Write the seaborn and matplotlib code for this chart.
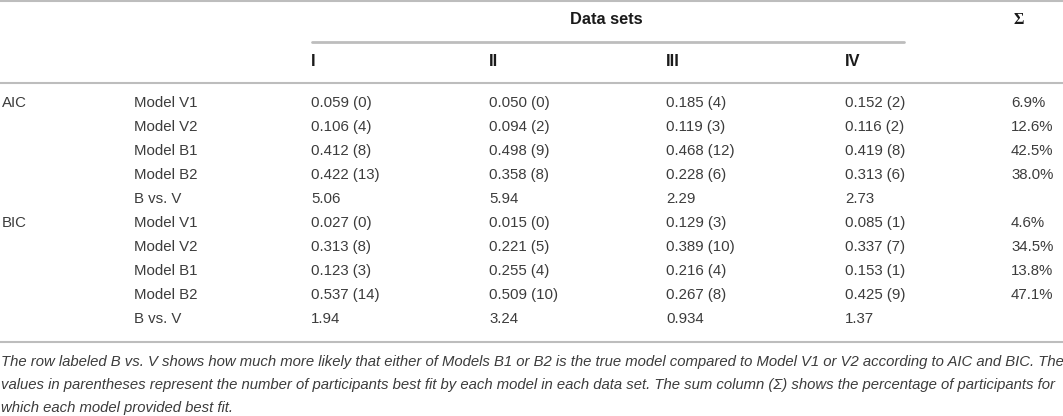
import pandas as pd
import matplotlib
matplotlib.use("Agg")
import matplotlib.pyplot as plt
import seaborn as sns

# ===== DONNEES =====
data_sets = ["I", "II", "III", "IV"]
criteria = ["AIC", "BIC"]
models = ["Model V1", "Model V2", "Model B1", "Model B2"]

aic_prob = [[0.059, 0.050, 0.185, 0.152],
            [0.106, 0.094, 0.119, 0.116],
            [0.412, 0.498, 0.468, 0.419],
            [0.422, 0.358, 0.228, 0.313]]
aic_count = [[0, 0, 4, 2], [4, 2, 3, 2], [8, 9, 12, 8], [13, 8, 6, 6]]
aic_bv = ["5.06", "5.94", "2.29", "2.73"]
aic_sum = ["6.9%", "12.6%", "42.5%", "38.0%"]

bic_prob = [[0.027, 0.015, 0.129, 0.085],
            [0.313, 0.221, 0.389, 0.337],
            [0.123, 0.255, 0.216, 0.153],
            [0.537, 0.509, 0.267, 0.425]]
bic_count = [[0, 0, 3, 1], [8, 5, 10, 7], [3, 4, 4, 1], [14, 10, 8, 9]]
bic_bv = ["1.94", "3.24", "0.934", "1.37"]
bic_sum = ["4.6%", "34.5%", "13.8%", "47.1%"]

caption = [
    "The row labeled B vs. V shows how much more likely that either of Models B1 or B2 is the true model compared to Model V1 or V2 according to AIC and BIC. The",
    "values in parentheses represent the number of participants best fit by each model in each data set. The sum column (\u03a3) shows the percentage of participants for",
    "which each model provided best fit.",
]

# ===== TABLE =====
rows = []
for crit, prob, count, bv, tot in [("AIC", aic_prob, aic_count, aic_bv, aic_sum),
                                    ("BIC", bic_prob, bic_count, bic_bv, bic_sum)]:
    for i, m in enumerate(models):
        cells = [f"{prob[i][j]:.3f} ({count[i][j]})" for j in range(4)]
        rows.append([crit if i == 0 else "", m] + cells + [tot[i]])
    rows.append(["", "B vs. V"] + bv + [""])
df = pd.DataFrame(rows, columns=["crit", "model"] + data_sets + ["sum"])

# ===== FIGURE =====
sns.set_theme(style="white")
plt.rcParams["font.family"] = ["Liberation Sans", "DejaVu Sans"]

fig = plt.figure(figsize=(10.63, 4.16), dpi=100)
ax = fig.add_axes([0, 0, 1, 1])
ax.set_xlim(0, 1063)
ax.set_ylim(416, 0)
ax.axis("off")

txt = "#3c3c3c"
head = "#1a1a1a"
line = "#bdbdbd"
fs = 10.8

col_x = [2, 134, 311, 489, 666, 845, 1011]

# lignes horizontales
ax.plot([0, 1063], [0.8, 0.8], color=line, lw=1.5)
ax.plot([312, 904], [41.5, 41.5], color=line, lw=2)
ax.plot([0, 1063], [83, 83], color=line, lw=1.5)
ax.plot([0, 1063], [342, 342], color=line, lw=1.5)

# en-tetes
ax.text(606, 20, "Data sets", ha="center", va="center", fontsize=11.8,
        fontweight="bold", color=head)
ax.text(col_x[6] + 2, 20, "\u03a3", ha="left", va="center", fontsize=11.5,
        fontweight="bold", color=head, family=["Liberation Serif"])
for j, name in enumerate(data_sets):
    ax.text(col_x[2 + j], 62, name, ha="left", va="center", fontsize=11.8,
            fontweight="bold", color=head)

# cellules
for r, row in enumerate(df.itertuples(index=False)):
    y = 103 + 24 * r
    for c, val in enumerate(row):
        if val:
            ax.text(col_x[c], y, val, ha="left", va="center", fontsize=fs,
                    color=txt)

# legende
for k, cap in enumerate(caption):
    ax.text(1, 362 + 23 * k, cap, ha="left", va="center", fontsize=10.7,
            style="italic", color=txt)

fig.savefig("out.png", dpi=100)
